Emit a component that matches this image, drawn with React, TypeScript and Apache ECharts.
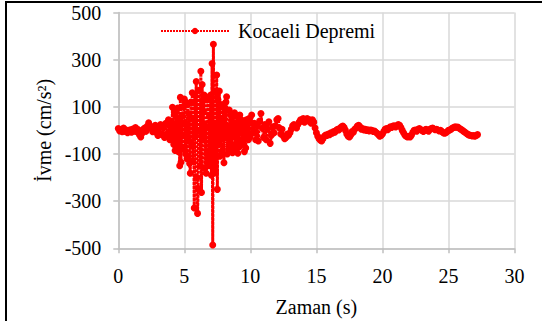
import React, { useEffect, useRef } from "react";
import * as echarts from "echarts";

// Kocaeli earthquake acceleration record (cm/s^2)
const seriesName = "Kocaeli Depremi";

// Segment A: 0.0 s – 3.9 s, every 0.1 s
const startA = 0;
const dtA = 0.1;
const accelA: number[] = [
  8, -2, 4, -6, 10, -4, 2, -10, -5, 3,
  -8, 6, -3, 12, -6, 4, -18, -28, -12, 5,
  10, -4, 18, 32, 20, 8, -6, 12, 22, -10,
  -22, 8, 25, -18, 12, -30, 30, -15, 45, -40,
];

// Segment B (strong motion): 4.00 s – 9.95 s, every 0.05 s
const startB = 4;
const dtB = 0.05;
const accelB: number[] = [
  30, -40, 98, 20, -60, 70, -85, 10, 85, -70,
  95, -90, 40, -150, 140, -135, 60, -20, 100, -80,
  133, 122, -100, 30, -120, 110, -40, 70, -140, -182,
  120, -60, 160, -130, 50, -329, 150, -20, 207, -200,
  -352, -246, 170, 0, -150, 251, -263, 195, -40, 80,
  150, -160, 20, -182, 130, -90, 140, -150, 60, -130,
  150, -190, 284, -486, 365, -150, 30, -180, 160, 235,
  -250, 130, -60, 167, -110, 40, -100, 110, -20, 100,
  -137, 90, -30, 120, 143, -100, 20, -80, 86, -40,
  70, -70, 10, -95, 60, -20, 75, -80, 30, -60,
  60, -97, 15, -70, 65, -10, 45, -60, 20, -40,
  40, -90, 0, -75, 45, -20, 35, -40, 50, -30,
];

// Segment C: 10.0 s – 27.2 s, every 0.1 s
const startC = 10;
const dtC = 0.1;
const accelC: number[] = [
  -20, 65, -10, 30, -40, 20, -45, 40, 72, 10,
  -30, 25, -40, 5, 37, -55, -20, 15, -10, 20,
  45, 50, 10, -15, 5, -25, -35, -30, -15, -20,
  -10, 5, 20, 25, 18, 10, 25, 35, 45, 40,
  50, 35, 45, 50, 40, 45, 30, 45, 35, 10,
  -10, -25, -35, -42, -45, -35, -25, -20, -22, -15,
  -18, -10, -12, -5, -8, 0, 5, 2, 10, 15,
  18, 12, 0, -15, -25, -28, -20, -5, -8, 5,
  10, 18, 22, 15, 5, 8, 2, 5, 0, 3,
  -2, 2, 0, -5, -3, -8, -12, -18, -25, -22,
  -15, -5, 5, 8, 3, 10, 15, 12, 18, 20,
  15, 20, 25, 22, 12, 0, -10, -20, -25, -28,
  -25, -28, -20, -8, 0, 2, -3, 5, 8, 3,
  0, -5, 2, 5, 0, -3, 5, 8, 10, 6,
  3, 5, 2, -2, 0, -5, -10, -12, -10, -6,
  0, 2, 5, 10, 12, 15, 13, 14, 10, 6,
  3, -2, -6, -10, -14, -18, -20, -22, -24, -22,
  -25, -22, -18,
];

const xMin = 0;
const xMax = 30;
const xInterval = 5;
const yMin = -500;
const yMax = 500;
const yInterval = 200;
const xTitle = "Zaman (s)";
const yTitle = "İvme (cm/s²)";

const FONT = "Liberation Serif";

function segment(start: number, dt: number, values: number[]) {
  return values.map((v, i) => [Math.round((start + i * dt) * 1000) / 1000, v]);
}

export default function App() {
  const ref = useRef<HTMLDivElement>(null);

  useEffect(() => {
    if (!ref.current) return;
    const chart = echarts.init(ref.current, undefined, { renderer: "svg" });
    const data = [
      ...segment(startA, dtA, accelA),
      ...segment(startB, dtB, accelB),
      ...segment(startC, dtC, accelC),
    ];
    const txt = { fontFamily: FONT, fontSize: 20, color: "#000000" };
    chart.setOption({
      animation: false,
      backgroundColor: "#ffffff",
      textStyle: { fontFamily: FONT },
      graphic: [
        {
          type: "rect",
          shape: { x: 6, y: 2, width: 700, height: 500 },
          style: { fill: "none", stroke: "#000000", lineWidth: 2 },
          silent: true,
          z: 100,
        },
      ],
      legend: {
        data: [seriesName],
        left: 160,
        top: 21,
        padding: 0,
        itemWidth: 68,
        itemHeight: 8,
        lineStyle: { width: 2, type: [2, 1], color: "#ff0000" },
        textStyle: { ...txt, padding: [0, 0, 0, 4] },
      },
      grid: {
        left: 118.3,
        right: 27.5,
        top: 12.5,
        bottom: 72.7,
        containLabel: false,
        outerBoundsMode: "none",
      },
      xAxis: {
        type: "value",
        min: xMin,
        max: xMax,
        interval: xInterval,
        name: xTitle,
        nameLocation: "middle",
        nameGap: 49,
        nameTextStyle: txt,
        axisLine: { show: true, onZero: false, lineStyle: { color: "#bfbfbf", width: 1.5 } },
        axisTick: { show: true, length: 5, lineStyle: { color: "#bfbfbf", width: 1.5 } },
        axisLabel: { ...txt, margin: 18 },
        splitLine: { show: true, lineStyle: { color: "#d9d9d9", width: 1.5 } },
      },
      yAxis: {
        type: "value",
        min: yMin,
        max: yMax,
        interval: yInterval,
        name: yTitle,
        nameLocation: "middle",
        nameRotate: 90,
        nameGap: 64,
        nameTextStyle: txt,
        axisLine: { show: true, lineStyle: { color: "#bfbfbf", width: 1.5 } },
        axisTick: { show: true, length: 5, lineStyle: { color: "#bfbfbf", width: 1.5 } },
        axisLabel: { ...txt, margin: 17 },
        splitLine: { show: true, lineStyle: { color: "#d9d9d9", width: 1.5 } },
      },
      series: [
        {
          name: seriesName,
          type: "line",
          data,
          symbol: "circle",
          symbolSize: 7,
          showSymbol: true,
          color: "#ff0000",
          itemStyle: { color: "#ff0000" },
          lineStyle: { color: "#ff0000", width: 3, type: [3, 1] },
        },
      ],
    });
    return () => chart.dispose();
  }, []);

  return (
    <div
      ref={ref}
      style={{
        position: "fixed",
        left: 0,
        top: 0,
        width: 542,
        height: 321,
        background: "#ffffff",
      }}
    />
  );
}
